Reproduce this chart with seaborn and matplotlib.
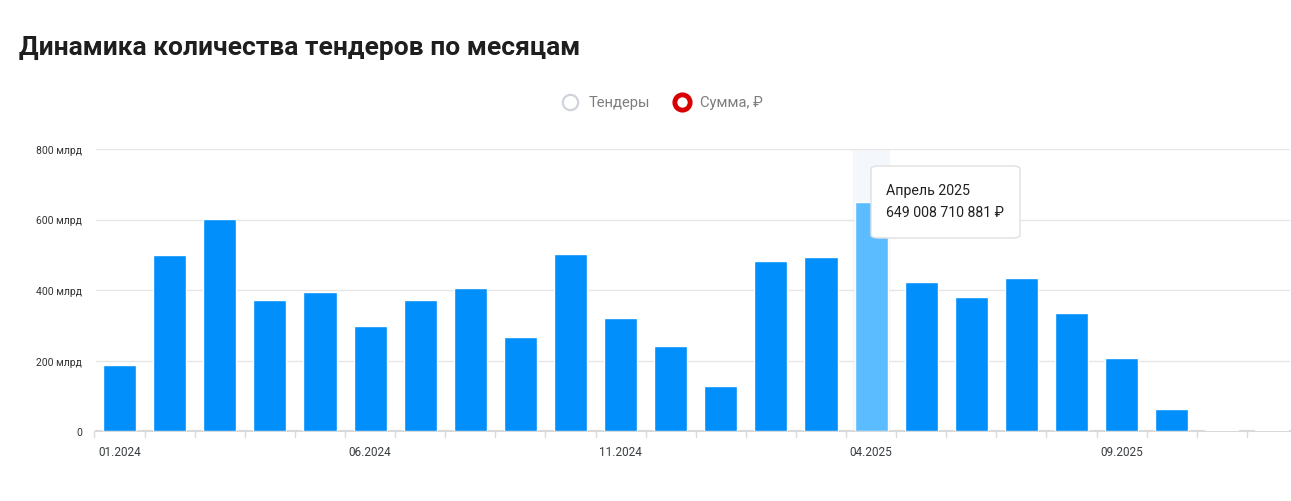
import matplotlib
matplotlib.use("Agg")
import matplotlib.pyplot as plt
import matplotlib.transforms as mtrans
from matplotlib.lines import Line2D
from matplotlib.patches import FancyBboxPatch
import pandas as pd
import seaborn as sns

sns.set_theme(style="white")
plt.rcParams['font.family'] = ['Roboto', 'DejaVu Sans']

# monthly sums, billions of rubles
months = ["01.2024", "02.2024", "03.2024", "04.2024", "05.2024", "06.2024",
          "07.2024", "08.2024", "09.2024", "10.2024", "11.2024", "12.2024",
          "01.2025", "02.2025", "03.2025", "04.2025", "05.2025", "06.2025",
          "07.2025", "08.2025", "09.2025", "10.2025", "11.2025", "12.2025"]
sums = [186, 500, 601, 373, 394, 297, 371, 405, 268, 503, 321, 241,
        127, 483, 495, 649.009, 423, 381, 433, 336, 207, 62, 4, 3]
shown_ticks = ["01.2024", "06.2024", "11.2024", "04.2025", "09.2025"]
y_ticks = [0, 200, 400, 600, 800]
y_labels = ["0", "200 млрд", "400 млрд", "600 млрд", "800 млрд"]
active = "04.2025"
tooltip_title = "Апрель 2025"
tooltip_value = "649 008 710 881 ₽"

df = pd.DataFrame({"month": months, "sum": sums})
blue = "#008ffb"
light_blue = "#5bbcff"
palette = {m: (light_blue if m == active else blue) for m in months}

W, H = 1291, 502
fig = plt.figure(figsize=(W / 100, H / 100), dpi=100)
ax = fig.add_axes([96 / W, (H - 432) / H, (1290 - 96) / W, 282 / H])

sns.barplot(data=df, x="month", y="sum", hue="month", palette=palette,
            legend=False, width=0.66, saturation=1, ax=ax, zorder=3)
# near-zero bars show only as a faint line
for p in ax.patches:
    if p.get_height() < 10:
        p.set_facecolor("#7cc8fd")

# hover column behind the active bar
ai = months.index(active)
ax.axvspan(ai - 0.36, ai + 0.36, color="#f4f7fb", zorder=0)

ax.set_xlim(-0.47, 23.36)
ax.set_ylim(0, 800)
ax.set_yticks(y_ticks)
ax.set_yticklabels(y_labels, fontsize=7.5, color="#333333")
shift = mtrans.ScaledTranslation(0, 3 / 100, fig.dpi_scale_trans)
for lab in ax.get_yticklabels():
    lab.set_transform(lab.get_transform() + shift)
for y in y_ticks[1:]:
    ax.axhline(y, color="#e6e6e6", lw=1, zorder=1)

ax.set_xticks([months.index(m) for m in shown_ticks])
ax.set_xticklabels(shown_ticks, fontsize=8.5, color="#373d3f")
ax.tick_params(axis="x", length=0, pad=10)
ax.tick_params(axis="y", length=0, pad=10)
for k in range(len(months) + 1):
    ax.plot([k - 0.5, k - 0.5], [0, -18], color="#dadada", lw=1,
            clip_on=False, zorder=1)
ax.set_xlabel("")
ax.set_ylabel("")
for s in ["top", "right", "left"]:
    ax.spines[s].set_visible(False)
ax.spines["bottom"].set_color("#d9d9d9")
ax.spines["bottom"].set_linewidth(1.5)
ax.spines["bottom"].set_zorder(2)

# title
fig.text(19 / W, 1 - 48 / H, "Динамика количества тендеров по месяцам",
         fontsize=19, fontweight="bold", color="#1e1e1e", va="center")

# legend
fig.add_artist(Line2D([570 / W], [1 - 103 / H], marker="o", markersize=11,
                      markerfacecolor="white", markeredgecolor="#cfd3dc",
                      markeredgewidth=1.6, transform=fig.transFigure))
fig.text(589 / W, 1 - 103 / H, "Тендеры", fontsize=10.6, color="#7d7d7d",
         va="center")
fig.add_artist(Line2D([682 / W], [1 - 103 / H], marker="o", markersize=11,
                      markerfacecolor="white", markeredgecolor="#d80000",
                      markeredgewidth=3.5, transform=fig.transFigure))
fig.text(700 / W, 1 - 103 / H, "Сумма, ₽", fontsize=10.6, color="#7d7d7d",
         va="center")

# tooltip
box = FancyBboxPatch((871 / W, 1 - 239 / H), 149 / W, 72 / H,
                     boxstyle="round,pad=0,rounding_size=0.006",
                     transform=fig.transFigure, facecolor="white",
                     edgecolor="#e0e0e0", lw=1, zorder=5)
fig.add_artist(box)
fig.text(886 / W, 1 - 191 / H, tooltip_title, fontsize=10.2, color="#222222",
         va="center", zorder=6)
fig.text(886 / W, 1 - 213 / H, tooltip_value, fontsize=10.2, color="#222222",
         va="center", zorder=6)

fig.savefig("out.png", dpi=100)
